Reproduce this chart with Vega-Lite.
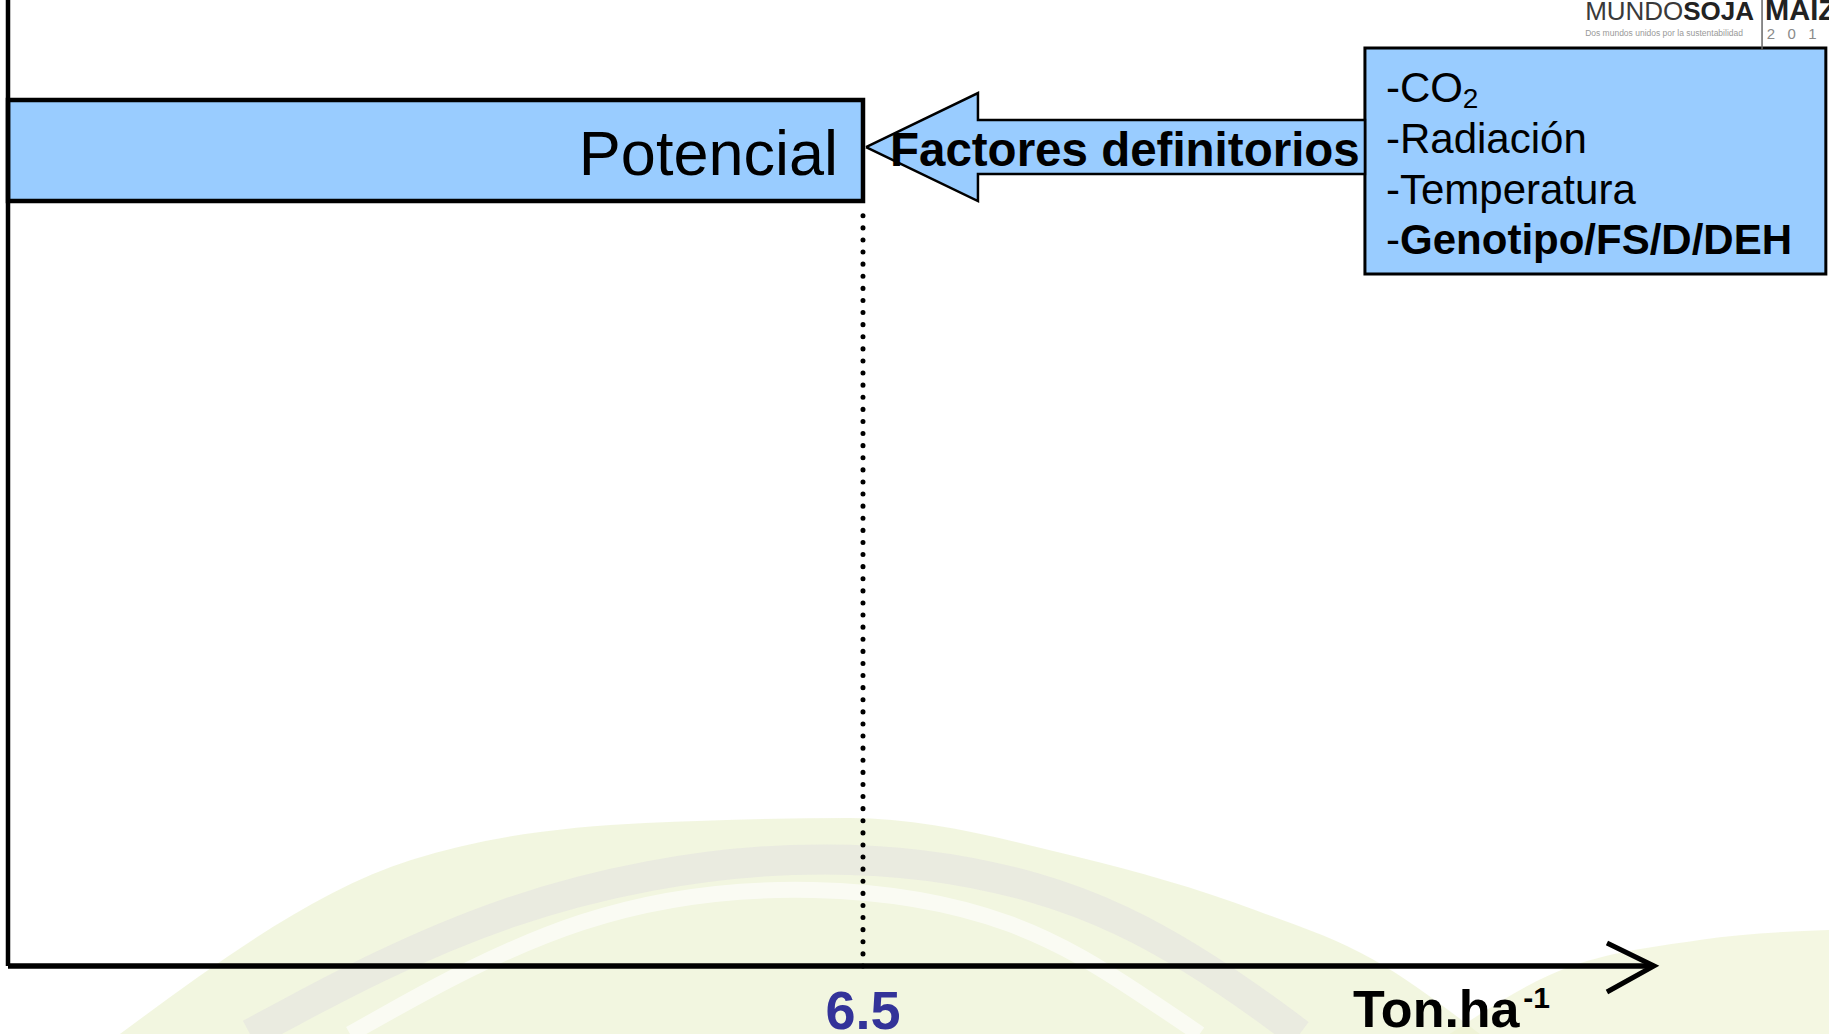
{
  "$schema": "https://vega.github.io/schema/vega-lite/v6.json",
  "width": 1829,
  "height": 1034,
  "autosize": "none",
  "padding": 0,
  "background": "white",
  "config": {"view": {"stroke": null}, "text": {"font": "Liberation Sans"}},
  "encoding": {
    "x": {"field": "x", "type": "quantitative", "scale": {"domain": [-0.0608, 13.844], "nice": false, "zero": false}, "axis": null},
    "y": {"field": "y", "type": "quantitative", "scale": {"domain": [-7.04, 100], "nice": false, "zero": false}, "axis": null}
  },
  "layer": [
    {
      "data": {"values": [
        {"x": 0.851, "y": -7.04, "b": -7.04}, {"x": 3.064, "y": 10.97, "b": -7.04}, {"x": 4.843, "y": 14.8, "b": -7.04}, {"x": 6.401, "y": 15.32, "b": -7.04},
        {"x": 8.134, "y": 11.28, "b": -7.04}, {"x": 9.48, "y": 5.8, "b": -7.04}, {"x": 10.385, "y": 0.62, "b": -7.04}, {"x": 11.19, "y": -7.04, "b": -7.04}
      ]},
      "mark": {"type": "area", "interpolate": "monotone", "fill": "#e9f0cc", "opacity": 0.6},
      "encoding": {"y2": {"field": "b"}}
    },
    {
      "data": {"values": [
        {"x": 10.96, "y": -7.04, "b": -7.04}, {"x": 11.72, "y": -0.93, "b": -7.04}, {"x": 12.86, "y": 2.69, "b": -7.04}, {"x": 13.844, "y": 3.73, "b": -7.04}
      ]},
      "mark": {"type": "area", "interpolate": "monotone", "fill": "#edf2cf", "opacity": 0.6},
      "encoding": {"y2": {"field": "b"}}
    },
    {
      "data": {"values": [
        {"x": 1.84, "y": -7.04, "o": 1}, {"x": 3.74, "y": 6.83, "o": 2}, {"x": 6.02, "y": 12.53, "o": 3}, {"x": 7.92, "y": 8.9, "o": 4}, {"x": 9.06, "y": 0.62, "o": 5}, {"x": 9.82, "y": -7.04, "o": 6}
      ]},
      "mark": {"type": "line", "interpolate": "basis", "stroke": "#d8cfe2", "strokeWidth": 30, "opacity": 0.3},
      "encoding": {"order": {"field": "o", "type": "quantitative"}}
    },
    {
      "data": {"values": [
        {"x": 2.6, "y": -7.04, "o": 1}, {"x": 4.35, "y": 6.31, "o": 2}, {"x": 6.17, "y": 8.9, "o": 3}, {"x": 7.69, "y": 5.28, "o": 4}, {"x": 8.68, "y": -3.52, "o": 5}, {"x": 9.06, "y": -7.04, "o": 6}
      ]},
      "mark": {"type": "line", "interpolate": "basis", "stroke": "white", "strokeWidth": 16, "opacity": 0.6},
      "encoding": {"order": {"field": "o", "type": "quantitative"}}
    },
    {
      "data": {"values": [{"x": 0, "y": 79.19, "x2": 6.5, "y2": 89.65}]},
      "mark": {"type": "rect", "fill": "#99ccff", "stroke": "black", "strokeWidth": 4.5},
      "encoding": {"x2": {"field": "x2"}, "y2": {"field": "y2"}}
    },
    {
      "data": {"values": [{"x": 10.316, "y": 71.64, "x2": 13.82, "y2": 95.03}]},
      "mark": {"type": "rect", "fill": "#99ccff", "stroke": "black", "strokeWidth": 3},
      "encoding": {"x2": {"field": "x2"}, "y2": {"field": "y2"}}
    },
    {
      "data": {"values": [
        {"x": 6.523, "y": 84.78, "o": 1},
        {"x": 7.374, "y": 90.37, "o": 2},
        {"x": 7.374, "y": 87.58, "o": 3},
        {"x": 10.316, "y": 87.58, "o": 4},
        {"x": 10.316, "y": 81.99, "o": 5},
        {"x": 7.374, "y": 81.99, "o": 6},
        {"x": 7.374, "y": 79.19, "o": 7},
        {"x": 6.523, "y": 84.78, "o": 8}
      ]},
      "mark": {"type": "line", "fill": "#99ccff", "stroke": "black", "strokeWidth": 2.5, "strokeJoin": "miter"},
      "encoding": {"order": {"field": "o", "type": "quantitative"}}
    },
    {
      "data": {"values": [{"x": 6.5, "y": 0, "y2": 78.6}]},
      "mark": {"type": "rule", "stroke": "black", "strokeWidth": 5, "strokeDash": [0.1, 12], "strokeCap": "round"},
      "encoding": {"y2": {"field": "y2"}}
    },
    {
      "data": {"values": [{"x": 0, "y": 0, "y2": 100}]},
      "mark": {"type": "rule", "stroke": "black", "strokeWidth": 4.5},
      "encoding": {"y2": {"field": "y2"}}
    },
    {
      "data": {"values": [{"x": 0, "y": 0, "x2": 12.48}]},
      "mark": {"type": "rule", "stroke": "black", "strokeWidth": 5.5},
      "encoding": {"x2": {"field": "x2"}}
    },
    {
      "data": {"values": [
        {"x": 12.156, "y": 2.38, "o": 1},
        {"x": 12.513, "y": 0, "o": 2},
        {"x": 12.156, "y": -2.69, "o": 3}
      ]},
      "mark": {"type": "line", "stroke": "black", "strokeWidth": 5, "strokeJoin": "miter"},
      "encoding": {"order": {"field": "o", "type": "quantitative"}}
    },
    {
      "data": {"values": [{"x": 6.31, "y": 81.88, "t": "Potencial"}]},
      "mark": {"type": "text", "align": "right", "baseline": "alphabetic", "fontSize": 63, "color": "black"},
      "encoding": {"text": {"field": "t"}}
    },
    {
      "data": {"values": [{"x": 6.705, "y": 82.82, "t": "Factores definitorios"}]},
      "mark": {"type": "text", "align": "left", "baseline": "alphabetic", "fontSize": 47.5, "fontWeight": "bold", "color": "black"},
      "encoding": {"text": {"field": "t"}}
    },
    {
      "data": {"values": [
        {"x": 10.476, "y": 89.44, "t": "-CO"},
        {"x": 10.476, "y": 84.16, "t": "-Radiación"},
        {"x": 10.476, "y": 78.86, "t": "-Temperatura"},
        {"x": 10.476, "y": 73.71, "t": "-"}
      ]},
      "mark": {"type": "text", "align": "left", "baseline": "alphabetic", "fontSize": 42, "color": "black"},
      "encoding": {"text": {"field": "t"}}
    },
    {
      "data": {"values": [{"x": 11.06, "y": 88.77, "t": "2"}]},
      "mark": {"type": "text", "align": "left", "baseline": "alphabetic", "fontSize": 28, "color": "black"},
      "encoding": {"text": {"field": "t"}}
    },
    {
      "data": {"values": [{"x": 10.583, "y": 73.71, "t": "Genotipo/FS/D/DEH"}]},
      "mark": {"type": "text", "align": "left", "baseline": "alphabetic", "fontSize": 42, "fontWeight": "bold", "color": "black"},
      "encoding": {"text": {"field": "t"}}
    },
    {
      "data": {"values": [{"x": 6.5, "y": -6.52, "t": "6.5"}]},
      "mark": {"type": "text", "align": "center", "baseline": "alphabetic", "fontSize": 54, "fontWeight": "bold", "color": "#333399"},
      "encoding": {"text": {"field": "t"}}
    },
    {
      "data": {"values": [{"x": 10.225, "y": -6.31, "t": "Ton.ha"}]},
      "mark": {"type": "text", "align": "left", "baseline": "alphabetic", "fontSize": 52, "fontWeight": "bold", "color": "black"},
      "encoding": {"text": {"field": "t"}}
    },
    {
      "data": {"values": [{"x": 11.52, "y": -4.35, "t": "-1"}]},
      "mark": {"type": "text", "align": "left", "baseline": "alphabetic", "fontSize": 30, "fontWeight": "bold", "color": "black"},
      "encoding": {"text": {"field": "t"}}
    },
    {
      "data": {"values": [{"x": 11.99, "y": 97.93, "t": "MUNDO"}]},
      "mark": {"type": "text", "align": "left", "baseline": "alphabetic", "fontSize": 26, "color": "#3a3a3a"},
      "encoding": {"text": {"field": "t"}}
    },
    {
      "data": {"values": [{"x": 12.735, "y": 97.93, "t": "SOJA"}]},
      "mark": {"type": "text", "align": "left", "baseline": "alphabetic", "fontSize": 26, "fontWeight": "bold", "color": "#222222"},
      "encoding": {"text": {"field": "t"}}
    },
    {
      "data": {"values": [{"x": 13.358, "y": 97.93, "t": "MAIZ"}]},
      "mark": {"type": "text", "align": "left", "baseline": "alphabetic", "fontSize": 29, "fontWeight": "bold", "color": "#222222"},
      "encoding": {"text": {"field": "t"}}
    },
    {
      "data": {"values": [{"x": 13.335, "y": 94.82, "y2": 100}]},
      "mark": {"type": "rule", "stroke": "#666666", "strokeWidth": 1.5},
      "encoding": {"y2": {"field": "y2"}}
    },
    {
      "data": {"values": [{"x": 11.99, "y": 96.27, "t": "Dos mundos unidos por la sustentabilidad"}]},
      "mark": {"type": "text", "align": "left", "baseline": "alphabetic", "fontSize": 8.5, "color": "#999999"},
      "encoding": {"text": {"field": "t"}}
    },
    {
      "data": {"values": [{"x": 13.37, "y": 95.96, "t": "2\u00a0\u00a0\u00a00\u00a0\u00a0\u00a01\u00a0\u00a0\u00a01"}]},
      "mark": {"type": "text", "align": "left", "baseline": "alphabetic", "fontSize": 15, "color": "#8a8a8a"},
      "encoding": {"text": {"field": "t"}}
    }
  ]
}
